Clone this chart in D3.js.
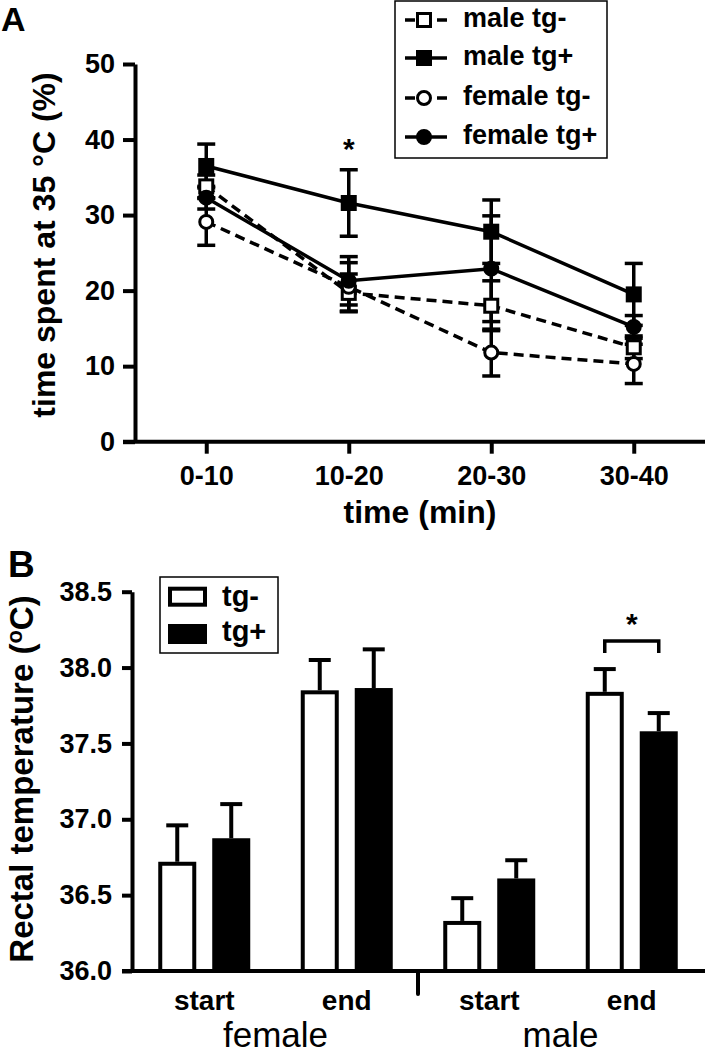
<!DOCTYPE html>
<html>
<head>
<meta charset="utf-8">
<script src="https://cdn.jsdelivr.net/npm/d3@7"></script>
<style>
body { margin: 0; background: #fff; }
svg { display: block; }
text { font-family: "Liberation Sans", Arial, sans-serif; font-weight: bold; fill: #000; }
</style>
</head>
<body>
<script>
// ---- panel A data: time spent at 35 C (%) ----
var times = ["0-10", "10-20", "20-30", "30-40"];
var seriesNames = ["male tg-", "male tg+", "female tg-", "female tg+"];
var maleNeg = [33.8, 19.7, 18.0, 12.5];
var maleNegSem = [1.5, 2.5, 3.3, 1.5];
var malePos = [36.5, 31.6, 27.8, 19.5];
var malePosSem = [2.9, 4.4, 4.2, 4.1];
var femaleNeg = [29.1, 20.5, 11.8, 10.3];
var femaleNegSem = [3.1, 3.2, 3.1, 2.6];
var femalePos = [32.3, 21.3, 22.9, 15.2];
var femalePosSem = [1.5, 3.2, 7.0, 1.5];
var yTicksA = [0, 10, 20, 30, 40, 50];

// ---- panel B data: rectal temperature ----
var sexes = ["female", "male"];
var phases = ["start", "end"];
var genotypes = ["tg-", "tg+"];
var tempNeg = [36.72, 37.85, 36.33, 37.84];
var tempNegSem = [0.24, 0.20, 0.15, 0.15];
var tempPos = [36.875, 37.865, 36.61, 37.58];
var tempPosSem = [0.225, 0.255, 0.12, 0.12];
var yTicksB = [36.0, 36.5, 37.0, 37.5, 38.0, 38.5];

var svg = d3.select('body').append('svg')
    .attr('width', 708)
    .attr('height', 1055);

function styleAxis(g, size) {
  g.attr('font-family', null).attr('font-size', null);
  g.selectAll('line').attr('stroke', '#000').attr('stroke-width', 4);
  g.selectAll('.domain').attr('stroke', '#000').attr('stroke-width', 4);
  g.selectAll('text').style('font-size', size + 'px');
}

// ================= panel A =================
var xA = d3.scalePoint().domain(times).range([135, 705]).padding(0.5);
var yA = d3.scaleLinear().domain([0, 50]).range([441.7, 64]);

svg.append('text').attr('x', 1).attr('y', 31).style('font-size', '34px').text('A');

var gx = svg.append('g').attr('transform', 'translate(0,' + yA(0) + ')')
    .call(d3.axisBottom(xA).tickSize(12).tickPadding(12).tickSizeOuter(0));
gx.select('.domain').remove();
styleAxis(gx, 27);
gx.append('line').attr('x1', 123).attr('x2', 705).attr('stroke', '#000').attr('stroke-width', 4);

var gy = svg.append('g').attr('transform', 'translate(135,0)')
    .call(d3.axisLeft(yA).tickValues(yTicksA).tickSize(12).tickPadding(8).tickSizeOuter(0));
styleAxis(gy, 27);

svg.append('text').attr('text-anchor', 'middle')
    .attr('transform', 'translate(55,245)rotate(-90)')
    .style('font-size', '32px').text('time spent at 35 \u00B0C (%)');
svg.append('text').attr('text-anchor', 'middle').attr('x', 420).attr('y', 523)
    .style('font-size', '32px').text('time (min)');

var seriesA = [
  {name: seriesNames[0], values: maleNeg, sem: maleNegSem},
  {name: seriesNames[1], values: malePos, sem: malePosSem},
  {name: seriesNames[2], values: femaleNeg, sem: femaleNegSem},
  {name: seriesNames[3], values: femalePos, sem: femalePosSem}
];
var look = {
  "male tg-": {dash: '10,6', shape: 'square', fill: '#fff'},
  "male tg+": {dash: null, shape: 'square', fill: '#000'},
  "female tg-": {dash: '10,6', shape: 'circle', fill: '#fff'},
  "female tg+": {dash: null, shape: 'circle', fill: '#000'}
};

// error bars
seriesA.forEach(function(s) {
  var g = svg.append('g').attr('stroke', '#000').attr('stroke-width', 3.5);
  s.values.forEach(function(v, i) {
    var cx = xA(times[i]), lo = yA(v - s.sem[i]), hi = yA(v + s.sem[i]);
    g.append('line').attr('x1', cx).attr('x2', cx).attr('y1', lo).attr('y2', hi);
    g.append('line').attr('x1', cx - 9).attr('x2', cx + 9).attr('y1', lo).attr('y2', lo);
    g.append('line').attr('x1', cx - 9).attr('x2', cx + 9).attr('y1', hi).attr('y2', hi);
  });
});

var line = d3.line()
    .x(function(d, i) { return xA(times[i]); })
    .y(function(d) { return yA(d); });

seriesA.forEach(function(s) {
  svg.append('path').attr('d', line(s.values))
      .attr('fill', 'none').attr('stroke', '#000').attr('stroke-width', 3.5)
      .attr('stroke-dasharray', look[s.name].dash);
});

function marker(g, shape, fill, cx, cy) {
  if (shape === 'square') {
    g.append('rect').attr('x', cx - 6.5).attr('y', cy - 6.5).attr('width', 13).attr('height', 13)
        .attr('fill', fill).attr('stroke', '#000').attr('stroke-width', 3);
  } else {
    g.append('circle').attr('cx', cx).attr('cy', cy).attr('r', 6.5)
        .attr('fill', fill).attr('stroke', '#000').attr('stroke-width', 3);
  }
}

seriesA.forEach(function(s) {
  var g = svg.append('g');
  s.values.forEach(function(v, i) {
    marker(g, look[s.name].shape, look[s.name].fill, xA(times[i]), yA(v));
  });
});

svg.append('text').attr('text-anchor', 'middle').attr('x', xA(times[1])).attr('y', 159)
    .style('font-size', '30px').text('*');

// legend A
svg.append('rect').attr('x', 395).attr('y', 1).attr('width', 212).attr('height', 157)
    .attr('fill', 'none').attr('stroke', '#000').attr('stroke-width', 1.5);
var legRows = [20, 58, 98, 137];
seriesA.forEach(function(s, i) {
  var g = svg.append('g');
  var cy = legRows[i];
  g.append('line').attr('x1', 405).attr('x2', 447).attr('y1', cy).attr('y2', cy)
      .attr('stroke', '#000').attr('stroke-width', 3.5).attr('stroke-dasharray', look[s.name].dash);
  marker(g, look[s.name].shape, look[s.name].fill, 424, cy);
  g.append('text').attr('x', 463).attr('y', cy + 7).style('font-size', '27px').text(s.name);
});

// ================= panel B =================
var cats = [];
sexes.forEach(function(sx) { phases.forEach(function(p) { cats.push(sx + ' ' + p); }); });
var xB = d3.scaleBand().domain(cats).range([133, 703]);
var bw = xB.bandwidth();
var xSub = d3.scaleBand().domain(genotypes).range([bw / 2 - 46, bw / 2 + 46]).paddingInner(0.296);
var yB = d3.scaleLinear().domain([36, 38.5]).range([971, 591.7]);

svg.append('text').attr('x', 8).attr('y', 577).style('font-size', '37px').text('B');

var gyB = svg.append('g').attr('transform', 'translate(132,0)')
    .call(d3.axisLeft(yB).tickValues(yTicksB).tickFormat(d3.format('.1f')).tickSize(10).tickPadding(10).tickSizeOuter(0));
styleAxis(gyB, 27);

var gxB = svg.append('g').attr('transform', 'translate(0,971)')
    .call(d3.axisBottom(xB).tickSize(0).tickPadding(19).tickFormat(function(d) { return d.split(' ')[1]; }));
gxB.select('.domain').remove();
styleAxis(gxB, 28);
gxB.append('line').attr('x1', 122).attr('x2', 705).attr('stroke', '#000').attr('stroke-width', 4);
gxB.append('line').attr('x1', xB(cats[2])).attr('x2', xB(cats[2])).attr('y1', 0).attr('y2', 23)
    .attr('stroke', '#000').attr('stroke-width', 4).attr('stroke-linecap', 'round');

sexes.forEach(function(sx) {
  var a = xB(sx + ' ' + phases[0]) + bw / 2, b = xB(sx + ' ' + phases[1]) + bw / 2;
  svg.append('text').attr('text-anchor', 'middle')
      .attr('x', (a + b) / 2).attr('y', 1047)
      .style('font-weight', 'normal').style('font-size', '35px').text(sx);
});

svg.append('text').attr('text-anchor', 'middle')
    .attr('transform', 'translate(33,779)rotate(-90)')
    .style('font-size', '33px')
    .call(function(t) {
      t.append('tspan').text('Rectal temperature (');
      t.append('tspan').attr('dy', -11).style('font-size', '22px').text('o');
      t.append('tspan').attr('dy', 11).text('C)');
    });

var barData = [];
cats.forEach(function(c, i) {
  barData.push({cat: c, geno: genotypes[0], v: tempNeg[i], sem: tempNegSem[i]});
  barData.push({cat: c, geno: genotypes[1], v: tempPos[i], sem: tempPosSem[i]});
});

var bars = svg.append('g').selectAll('g').data(barData).join('g')
    .attr('transform', function(d) { return 'translate(' + (xB(d.cat) + xSub(d.geno)) + ',0)'; });
var sw = xSub.bandwidth();
bars.append('line')
    .attr('x1', sw / 2).attr('x2', sw / 2)
    .attr('y1', function(d) { return yB(d.v); })
    .attr('y2', function(d) { return yB(d.v + d.sem); })
    .attr('stroke', '#000').attr('stroke-width', 4);
bars.append('line')
    .attr('x1', sw / 2 - 11).attr('x2', sw / 2 + 11)
    .attr('y1', function(d) { return yB(d.v + d.sem); })
    .attr('y2', function(d) { return yB(d.v + d.sem); })
    .attr('stroke', '#000').attr('stroke-width', 4);
bars.append('rect')
    .attr('x', 2).attr('width', sw - 4)
    .attr('y', function(d) { return yB(d.v) + 2; })
    .attr('height', function(d) { return yB(36) - yB(d.v) - 2; })
    .attr('fill', function(d) { return d.geno === 'tg-' ? '#fff' : '#000'; })
    .attr('stroke', '#000').attr('stroke-width', 4);

// significance bracket on male end
var mEnd = cats[3];
var bx1 = xB(mEnd) + xSub(genotypes[0]) + sw / 2, bx2 = xB(mEnd) + xSub(genotypes[1]) + sw / 2;
svg.append('path')
    .attr('d', d3.line()([[bx1, 653], [bx1, 641], [bx2, 641], [bx2, 653]]))
    .attr('fill', 'none').attr('stroke', '#000').attr('stroke-width', 3.5);
svg.append('text').attr('text-anchor', 'middle').attr('x', (bx1 + bx2) / 2).attr('y', 634)
    .style('font-size', '30px').text('*');

// legend B
svg.append('rect').attr('x', 160).attr('y', 577).attr('width', 118).attr('height', 76)
    .attr('fill', 'none').attr('stroke', '#000').attr('stroke-width', 1.5);
genotypes.forEach(function(gn, i) {
  var top = i === 0 ? 588.7 : 626;
  svg.append('rect').attr('x', 170).attr('y', top).attr('width', 35).attr('height', 16)
      .attr('fill', i === 0 ? '#fff' : '#000').attr('stroke', '#000').attr('stroke-width', 4);
  svg.append('text').attr('x', 222).attr('y', i === 0 ? 606 : 641).style('font-size', '29px').text(gn);
});
</script>
</body>
</html>
